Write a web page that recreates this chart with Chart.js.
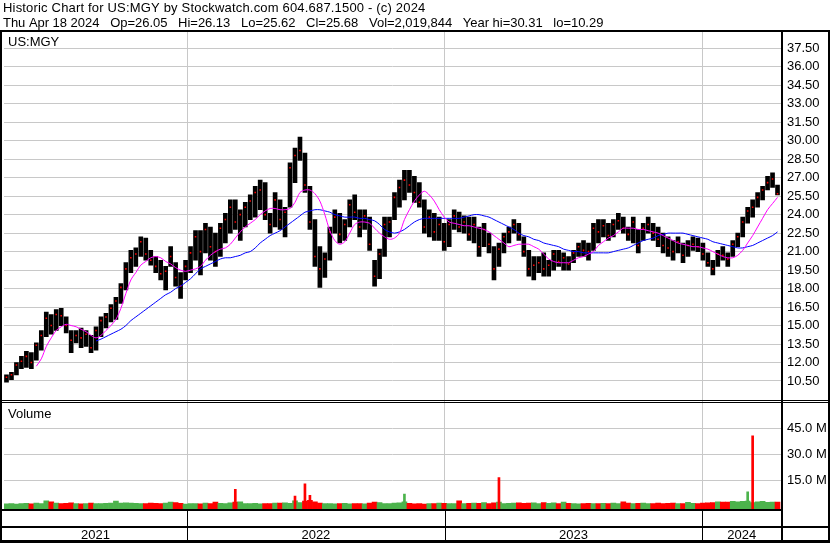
<!DOCTYPE html>
<html>
<head>
<meta charset="utf-8">
<script src="https://cdn.jsdelivr.net/npm/chart.js@4"></script>
<style>
  html, body { margin: 0; padding: 0; background: #fff; }
  canvas { display: block; }
</style>
</head>
<body>
<canvas id="chart" width="830" height="543"></canvas>
<script>
// weekly bins (about 5 trading days each)
const lows = [
  10.4,10.6,11.0,11.5,11.6,11.5,12.2,13.0,14.1,14.3,
  14.6,15.0,14.4,12.8,13.6,13.2,13.3,12.8,13.0,14.1,
  14.8,15.3,15.5,16.8,17.9,19.3,19.8,20.6,20.3,19.9,
  19.3,18.7,17.9,19.8,18.2,17.2,18.7,19.3,20.3,19.1,
  20.9,20.3,19.8,20.6,21.7,22.5,22.8,21.9,23.0,23.6,
  23.8,24.4,23.6,22.5,23.0,22.8,22.2,24.6,26.6,28.4,
  25.8,22.8,19.8,18.1,18.9,20.3,22.5,21.7,21.9,23.0,
  23.6,22.2,22.8,21.1,18.2,18.8,20.6,22.2,23.6,24.6,
  25.2,25.8,25.0,24.6,22.5,22.2,21.9,21.9,21.1,21.4,
  22.8,22.6,22.5,21.9,21.7,20.6,21.4,20.9,18.7,19.8,
  20.9,21.7,22.5,21.9,20.6,19.0,18.7,19.3,19.0,19.0,
  19.5,19.8,19.5,19.5,20.1,20.6,20.6,20.3,21.1,21.7,
  22.2,21.9,22.2,22.8,22.5,21.9,21.7,20.9,21.9,22.5,
  21.9,21.4,20.9,20.6,20.3,20.9,20.1,20.6,21.1,21.0,
  20.3,19.8,19.1,19.8,20.3,19.8,20.6,21.4,22.2,23.3,
  23.8,24.6,25.2,26.0,26.2,25.6
];
const highs = [
  11.0,11.2,12.0,12.5,12.9,12.8,13.6,14.6,16.1,15.9,
  16.3,16.4,15.7,14.6,14.6,14.8,14.6,14.2,14.9,15.7,
  16.0,16.7,17.3,18.4,20.1,21.1,21.3,22.2,22.1,21.1,
  20.6,20.3,19.8,21.4,20.1,19.3,20.3,21.4,22.7,22.7,
  23.3,23.0,22.5,23.3,24.1,25.2,25.2,24.4,25.0,25.6,
  26.3,26.8,26.6,24.1,25.8,25.2,24.6,28.2,29.4,30.3,
  29.0,26.3,23.6,21.4,20.9,23.0,24.4,24.1,23.6,25.2,
  25.6,24.4,24.4,23.8,20.3,21.2,23.8,23.8,25.8,26.8,
  27.6,27.6,27.1,26.6,25.2,24.4,24.1,23.8,23.3,23.6,
  24.4,24.2,23.9,23.8,23.8,23.0,23.3,22.5,21.4,21.7,
  22.5,23.0,23.6,23.3,22.2,21.1,20.6,20.6,20.9,20.3,
  21.1,21.1,20.9,20.6,21.1,21.7,21.9,21.7,23.3,23.6,
  23.6,23.3,23.6,24.1,23.8,23.0,23.8,22.8,23.3,23.8,
  23.3,23.0,22.5,22.2,21.9,22.2,21.7,21.9,22.2,22.1,
  21.7,20.9,20.3,21.1,21.4,20.9,21.9,22.5,23.8,24.6,
  25.2,25.8,26.3,27.1,27.4,26.4
];
const closes = [
  10.8,11.0,11.8,12.1,12.5,12.0,13.4,14.2,15.6,15.0,
  15.9,15.8,15.0,13.8,14.2,14.0,14.3,13.2,14.6,15.4,
  15.7,16.4,17.0,18.1,19.6,20.5,20.8,21.8,20.8,20.3,
  19.8,19.2,19.4,20.6,18.9,18.2,19.8,20.9,22.2,21.0,
  22.8,21.4,21.0,22.9,23.6,24.6,23.4,24.0,24.6,25.1,
  25.8,26.0,24.0,23.2,25.2,23.6,24.2,27.8,28.8,29.2,
  26.4,23.4,20.6,19.6,20.4,22.6,23.8,22.4,23.2,24.8,
  24.2,23.0,23.9,21.6,19.0,20.8,23.2,23.4,25.4,26.2,
  26.8,26.4,25.8,25.0,23.0,23.8,22.6,23.2,21.8,23.2,
  23.9,23.0,23.4,22.4,23.2,21.4,22.8,21.6,19.6,21.2,
  22.2,22.6,23.2,22.4,21.0,19.6,19.9,20.1,19.6,19.9,
  20.8,20.2,20.5,20.0,20.9,21.4,21.1,21.0,22.9,22.6,
  23.1,22.3,23.2,23.5,22.9,22.4,23.4,21.5,22.9,23.2,
  22.5,22.0,21.5,21.3,21.0,21.8,20.7,21.5,21.6,21.4,
  20.8,20.1,19.6,20.8,20.7,20.4,21.6,22.2,23.4,24.3,
  24.6,25.4,26.0,26.6,26.9,25.7
];
// magenta (short) and blue (long) moving averages as drawn
const maShort = [
  null,null,null,null,null,null,11.7,12.3,13.3,14.0,
  14.6,14.9,15.1,15.0,14.9,14.7,14.5,14.2,14.0,14.2,
  14.6,15.0,15.5,16.4,17.6,18.7,19.3,19.9,20.2,20.5,
  20.6,20.5,20.2,20.0,19.7,19.5,19.4,19.5,19.6,19.8,
  20.3,20.7,21.0,21.2,21.3,21.6,22.1,22.6,23.0,23.3,
  23.6,24.0,24.3,24.5,24.5,24.4,24.4,24.5,25.0,25.8,
  26.0,26.0,25.7,25.1,24.0,22.7,21.9,21.6,21.8,22.5,
  23.2,23.4,23.4,23.3,22.9,22.5,22.2,22.0,22.1,22.5,
  23.6,24.4,25.1,25.6,25.9,25.6,25.1,24.4,23.8,23.4,
  23.3,23.2,23.1,23.1,23.0,22.9,22.8,22.6,22.3,22.0,
  21.7,21.4,21.5,21.6,21.6,21.6,21.4,21.2,20.8,20.4,
  20.2,20.1,20.1,20.1,20.3,20.5,20.6,20.8,21.0,21.5,
  21.8,22.1,22.3,22.6,22.9,22.9,22.9,22.8,22.8,22.7,
  22.6,22.5,22.3,22.1,21.9,21.7,21.6,21.5,21.4,21.4,
  21.3,21.2,21.0,20.8,20.6,20.5,20.5,20.7,21.1,21.7,
  22.3,23.0,23.7,24.4,24.9,25.4
];
const maLong = [
  null,null,null,null,null,null,null,null,null,null,
  null,null,null,null,null,null,null,null,13.75,13.9,
  14.1,14.3,14.5,14.7,15.0,15.4,15.7,16.0,16.3,16.6,
  16.9,17.2,17.5,17.7,18.0,18.2,18.5,18.8,19.2,19.6,
  19.8,20.0,20.2,20.4,20.5,20.5,20.6,20.7,20.9,21.0,
  21.3,21.7,22.0,22.3,22.5,22.7,23.0,23.3,23.6,23.9,
  24.2,24.3,24.4,24.4,24.3,24.2,24.0,23.9,23.8,23.8,
  23.8,23.7,23.7,23.6,23.5,23.2,22.8,22.6,22.5,22.6,
  22.8,23.1,23.4,23.6,23.7,23.7,23.7,23.7,23.7,23.7,
  23.7,23.7,23.8,23.9,24.0,24.0,23.9,23.8,23.6,23.4,
  23.2,23.0,22.8,22.5,22.3,22.2,22.0,21.9,21.7,21.6,
  21.5,21.4,21.2,21.1,21.0,21.0,20.9,20.9,20.9,20.9,
  20.9,20.9,21.0,21.1,21.2,21.3,21.5,21.7,21.9,22.0,
  22.1,22.3,22.4,22.5,22.5,22.5,22.5,22.4,22.3,22.2,
  22.1,22.0,21.8,21.7,21.6,21.5,21.4,21.3,21.3,21.4,
  21.5,21.7,21.9,22.1,22.3,22.6
];
// volume in millions per bin, plus the single-day spikes
const volumes = [
  1.4,1.6,1.3,1.5,1.7,1.4,1.9,1.6,3.2,2.6,
  1.8,1.5,1.7,2.0,1.6,1.4,1.5,1.8,1.6,1.5,
  1.7,1.8,3.0,1.9,2.0,1.9,1.7,1.6,1.5,1.8,
  1.7,1.6,1.9,2.4,2.2,1.7,1.3,1.5,1.6,1.4,
  1.8,1.6,2.4,1.7,1.6,2.0,2.4,2.6,1.6,1.5,
  1.7,1.4,1.5,1.6,1.8,1.9,2.0,1.7,3.2,2.2,
  3.0,3.4,2.6,1.9,1.6,1.5,1.4,1.5,1.7,1.4,
  1.5,1.6,1.4,1.9,2.4,2.2,1.6,1.5,1.8,2.0,
  2.6,1.7,1.4,1.5,1.3,1.6,1.5,1.9,1.7,1.5,
  1.6,3.2,1.6,1.7,1.9,1.7,2.2,1.6,2.0,2.4,
  1.6,1.7,1.9,2.0,1.7,1.8,2.0,1.6,2.1,1.7,
  2.0,1.6,2.4,1.7,1.5,1.4,1.6,1.7,1.5,1.6,
  1.7,1.5,1.9,1.6,2.6,1.8,1.5,1.7,1.9,1.6,
  1.5,1.8,1.6,1.7,1.9,1.6,1.5,2.3,1.7,1.5,
  1.8,2.0,2.2,2.6,2.5,2.4,2.9,2.6,2.8,3.0,
  2.2,2.6,2.8,2.3,2.5,2.4
];
const spikeBins = [46, 58, 60, 61, 80, 99, 149, 150];
const spikeVolumes = [9.8, 5.9, 12.9, 6.3, 7.1, 16.5, 8.3, 40.6];
const spikeUp = [false, false, false, false, true, false, true, false];

const priceTicks = [10.5,12,13.5,15,16.5,18,19.5,21,22.5,24,25.5,27,28.5,30,31.5,33,34.5,36,37.5];
const volumeTicks = [15, 30, 45];
const yearLabels = ['2021', '2022', '2023', '2024'];
const yearStarts = [36.3, 88.1, 139.9];   // bin position where each new year begins

const titleLine1 = 'Historic Chart for US:MGY by Stockwatch.com 604.687.1500 - (c) 2024';
const titleLine2 = 'Thu Apr 18 2024   Op=26.05   Hi=26.13   Lo=25.62   Cl=25.68   Vol=2,019,844   Year hi=30.31   lo=10.29';

const FONT = '"Liberation Sans", Arial, sans-serif';
const GREEN = '#4cb34c';
const RED = '#ff0000';
const GRID = '#c8c8c8';
const VOL_MIN = -1.56;

const priceBars = lows.map((lo, i) => ({ x: i, y: [lo, highs[i]] }));
const closeMarks = closes.map((c, i) => ({ x: i, y: c }));
const volBars = volumes.map((v, i) => ({ x: i, y: [VOL_MIN, v] }));
const volColors = closes.map((c, i) => (i === 0 || c >= closes[i - 1]) ? GREEN : RED);
const spikeBars = spikeBins.map((k, i) => ({ x: k, y: [VOL_MIN, spikeVolumes[i]] }));

// draw a line of text stretched to end at a given x, like the original header
function fitText(c, text, x, y, right) {
    c.letterSpacing = '0px';
    const w = c.measureText(text).width;
    const extra = (right - x - w) / Math.max(1, text.length - 1);
    c.letterSpacing = extra.toFixed(2) + 'px';
    c.fillText(text, x, y);
    c.letterSpacing = '0px';
}

const framePlugin = {
    id: 'frame',
    beforeDraw(chart) {
        const c = chart.ctx;
        c.save();
        c.fillStyle = '#fff';
        c.fillRect(0, 0, chart.width, chart.height);
        c.restore();
    },
    afterDraw(chart) {
        const c = chart.ctx;
        const x = chart.scales.x;
        const area = chart.chartArea;
        c.save();
        c.fillStyle = '#000';
        // outer frame and panel separators
        c.fillRect(0, 30, 830, 2);
        c.fillRect(0, 30, 2, 512);
        c.fillRect(781, 30, 2, 511);
        c.fillRect(828, 30, 2, 512);
        c.fillRect(0, 400, 830, 1);
        c.fillRect(0, 402, 830, 1);
        c.fillRect(0, 509, 783, 2);
        c.fillRect(0, 526, 830, 2);
        c.fillRect(0, 540, 830, 3);
        // year separators in the date strip
        yearStarts.forEach(v => {
            const px = Math.round(x.getPixelForValue(v));
            c.fillRect(px, 511, 1, 30);
        });

        c.font = '13px ' + FONT;
        c.textBaseline = 'alphabetic';
        c.textAlign = 'left';
        fitText(c, titleLine1, 3, 12, 425);
        fitText(c, titleLine2, 3, 27, 603);
        c.fillText('US:MGY', 8, 46);
        c.fillText('Volume', 8, 418);

        // year labels centred in their spans
        const edges = [area.left].concat(yearStarts.map(v => x.getPixelForValue(v)), [area.right]);
        c.textAlign = 'center';
        yearLabels.forEach((lab, i) => {
            c.fillText(lab, (edges[i] + edges[i + 1]) / 2, 539);
        });
        c.restore();
    }
};

const ctx = document.getElementById('chart').getContext('2d');
new Chart(ctx, {
    type: 'bar',
    data: {
        datasets: [
            {
                type: 'line', borderColor: '#ff00ff', borderWidth: 1,
                pointRadius: 0, tension: 0.3, yAxisID: 'y', order: 1,
                parsing: false,
                data: maShort.map((v, i) => ({ x: i, y: v }))
            },
            {
                type: 'line', borderColor: '#0000ff', borderWidth: 1,
                pointRadius: 0, tension: 0.3, yAxisID: 'y', order: 1,
                parsing: false,
                data: maLong.map((v, i) => ({ x: i, y: v }))
            },
            {
                type: 'scatter', data: closeMarks, yAxisID: 'y', order: 2,
                pointStyle: 'rect', pointRadius: 1.1, borderWidth: 0,
                backgroundColor: RED, showLine: false
            },
            {
                type: 'bar', data: priceBars, yAxisID: 'y', order: 3,
                backgroundColor: '#000', barThickness: 4, grouped: false
            },
            {
                type: 'bar', data: volBars, yAxisID: 'vol', order: 4,
                backgroundColor: volColors, barThickness: 5, grouped: false
            },
            {
                type: 'bar', data: spikeBars, yAxisID: 'vol', order: 3,
                backgroundColor: spikeUp.map(u => u ? GREEN : RED), barThickness: 2, grouped: false
            }
        ]
    },
    options: {
        responsive: false,
        animation: false,
        events: [],
        layout: { padding: { top: 32, bottom: 34, left: 0, right: 0 } },
        plugins: { legend: { display: false }, tooltip: { enabled: false } },
        scales: {
            x: {
                type: 'linear', min: -0.5, max: 155.7, offset: false,
                afterBuildTicks: s => { s.ticks = yearStarts.map(v => ({ value: v })); },
                afterFit: s => { s.height = 0; },
                grid: { color: GRID, drawTicks: false, offset: false },
                border: { display: false },
                ticks: { display: false }
            },
            y: {
                type: 'linear', position: 'right', stack: 'panels', stackWeight: 369.5,
                min: 8.836, max: 38.823,
                afterBuildTicks: s => { s.ticks = priceTicks.map(v => ({ value: v })); },
                afterFit: s => { s.width = 49; },
                grid: { color: GRID, drawTicks: false },
                border: { display: false },
                ticks: {
                    autoSkip: false, padding: 6, color: '#000', font: { family: FONT, size: 13 },
                    callback: v => v.toFixed(2)
                }
            },
            vol: {
                type: 'linear', position: 'right', stack: 'panels', stackWeight: 107.5,
                min: VOL_MIN, max: 60.46,
                afterBuildTicks: s => { s.ticks = volumeTicks.map(v => ({ value: v })); },
                afterFit: s => { s.width = 49; },
                grid: { color: GRID, drawTicks: false },
                border: { display: false },
                ticks: {
                    autoSkip: false, padding: 6, color: '#000', font: { family: FONT, size: 13 },
                    callback: v => v.toFixed(1) + ' M'
                }
            }
        }
    },
    plugins: [framePlugin]
});
</script>
</body>
</html>
